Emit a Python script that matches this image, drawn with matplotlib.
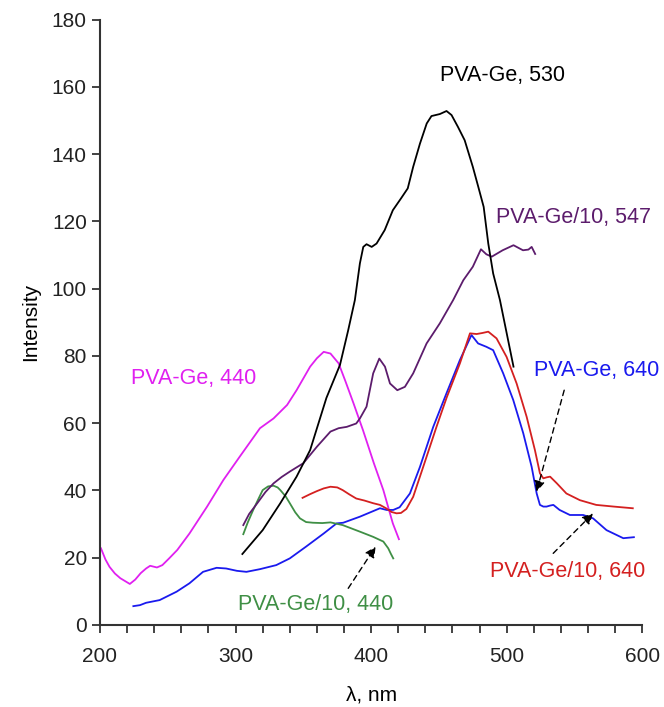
import numpy as np
import matplotlib
matplotlib.use('Agg')
import matplotlib.pyplot as plt
from matplotlib.ticker import MultipleLocator

plt.rcParams['font.family'] = ['Liberation Sans', 'DejaVu Sans']

# PVA-Ge, 530 (black)
x_530 = [305, 320, 333, 345, 355, 367, 377, 383, 388, 391.7, 394.2, 396.6, 400.4, 404, 410,
         416, 422, 427, 431, 436, 441, 444.5, 450.7, 455.6, 459.3, 464, 469, 475, 479, 483,
         486.4, 490, 495, 500, 505]
y_530 = [21.1, 28.2, 36.2, 44.1, 52.0, 67.5, 77.3, 87.5, 96.6, 107.5, 112.4, 113.2, 112.4, 113.4, 117.4,
         123.3, 126.8, 129.8, 136.2, 143.1, 149.1, 151.3, 151.9, 152.8, 151.6, 148.1, 144.1, 136.2, 130.3, 124.3,
         113.4, 104.5, 96.6, 86.7, 76.8]

# PVA-Ge, 440 (magenta)
x_440 = [200.7, 204, 207, 211, 215, 222, 226, 230, 234, 237, 242, 246, 251, 257, 266, 279, 291, 303, 318, 328,
         338, 345, 355, 360, 365, 370, 376, 381, 387, 394, 402, 409, 416, 420.5]
y_440 = [22.8, 19.5, 17.3, 15.3, 13.9, 12.2, 13.5, 15.4, 16.8, 17.6, 17.1, 17.8, 19.8, 22.3, 27.2, 35.2, 43.1, 50.0, 58.5, 61.4,
         65.4, 69.8, 76.8, 79.3, 81.2, 80.7, 77.8, 72.5, 65.9, 57.9, 48.1, 40.1, 30.2, 25.5]

# PVA-Ge/10, 547 (purple)
x_547 = [305.7, 310, 316, 322, 328, 334, 340, 350, 360, 370, 376, 382, 389, 391.7, 396.6, 401.5, 406, 410.2, 413.9,
         419.3, 424.9, 431, 440.9, 450.7, 460.5, 468, 475, 481, 485, 489, 497, 505, 512, 516, 518.4, 521]
y_547 = [29.7, 33.0, 36.2, 39.5, 42.1, 44.0, 45.6, 48.1, 53.0, 57.5, 58.5, 58.9, 59.9, 61.4, 64.9, 74.8, 79.2, 76.8, 71.8,
         69.8, 70.8, 74.8, 83.7, 89.7, 96.6, 102.5, 106.5, 111.7, 110.2, 109.5, 111.4, 112.9, 111.4, 111.6, 112.4, 110.3]

# PVA-Ge/10, 440 (green)
x_g440 = [305.7, 309, 313, 317, 320, 324, 328, 331, 333, 337, 340, 344, 347.5, 352, 357, 364, 370, 379, 392,
          401.5, 409, 412.6, 414.5, 416.3]
y_g440 = [27.0, 30.5, 34.2, 37.6, 40.1, 41.2, 41.4, 40.9, 40.1, 38.2, 36.2, 33.5, 31.7, 30.6, 30.4, 30.3, 30.5, 29.7, 27.7,
          26.2, 24.8, 22.8, 21.2, 19.8]

# PVA-Ge/10, 640 (red)
x_r640 = [349.4, 355, 360, 365, 370, 375, 379, 384, 389, 395, 401.5, 406.5, 411, 415, 418.7, 422, 426, 431, 438.4,
          448.2, 455.6, 465.5, 472.9, 477.8, 482, 486.4, 492.5, 499.9, 507.3, 514.7, 520.8, 524.5, 527, 529.5, 532,
          537, 544, 554, 566, 579, 593]
y_r640 = [37.8, 38.9, 39.8, 40.6, 41.1, 40.9, 40.1, 38.8, 37.6, 37.0, 36.2, 35.7, 34.7, 33.6, 33.2, 33.3, 34.5, 38.1, 47.0,
          58.9, 67.5, 77.8, 86.7, 86.5, 86.8, 87.2, 85.2, 79.7, 71.8, 61.9, 52.0, 45.1, 43.6, 43.9, 44.1,
          42.1, 39.1, 37.1, 35.7, 35.2, 34.7]

# PVA-Ge, 640 (blue)
x_b640 = [224.6, 229.5, 234, 244, 256.5, 266, 276, 286, 293, 301, 308, 318, 330, 340, 352,
          365, 374.5, 379.4, 391.7, 400, 406.5, 411.4, 416.3, 421, 428.6, 436, 445.8, 455.6, 465.5, 474,
          478.9, 485, 490, 497.4, 504.8, 512.2, 518.4, 522.1, 524.5, 527, 529.4, 532, 534.4, 539, 546.6,
          556.4, 563.7, 573.6, 586, 593.8]
y_b640 = [5.6, 5.9, 6.6, 7.4, 9.9, 12.4, 15.8, 17.0, 16.8, 16.1, 15.8, 16.6, 17.8, 19.8, 23.3,
          27.2, 30.2, 30.4, 32.2, 33.6, 34.7, 34.2, 34.2, 35.0, 39.1, 47.0, 58.9, 68.9, 78.8, 86.2,
          83.7, 82.7, 81.7, 74.8, 66.9, 57.0, 47.0, 39.1, 35.7, 35.2, 35.2, 35.5, 35.7, 34.2, 32.7,
          32.7, 31.7, 28.2, 25.8, 26.1]

fig = plt.figure(figsize=(6.64, 7.07), dpi=100)
ax = fig.add_axes([0.1506, 0.116, 0.8167, 0.8564])

lw = 1.3
ax.plot(x_440, y_440, color='#e020f0', lw=lw)
ax.plot(x_b640, y_b640, color='#1a1aee', lw=lw)
ax.plot(x_g440, y_g440, color='#3f8f45', lw=lw)
ax.plot(x_547, y_547, color='#5c1c6c', lw=lw)
ax.plot(x_r640, y_r640, color='#d42020', lw=lw)
ax.plot(x_530, y_530, color='black', lw=lw)

fs = 15.5
ax.text(497, 163.4, 'PVA-Ge, 530', color='black', fontsize=fs, ha='center', va='center')
ax.text(549.6, 121, 'PVA-Ge/10, 547', color='#5c1c6c', fontsize=fs, ha='center', va='center')
ax.text(269, 73.4, 'PVA-Ge, 440', color='#e020f0', fontsize=fs, ha='center', va='center')
ax.text(566.5, 75.8, 'PVA-Ge, 640', color='#1a1aee', fontsize=fs, ha='center', va='center', clip_on=False)
ax.text(545, 15.8, 'PVA-Ge/10, 640', color='#d42020', fontsize=fs, ha='center', va='center')
ax.text(359.3, 6.2, 'PVA-Ge/10, 440', color='#3f8f45', fontsize=fs, ha='center', va='center')

# dashed arrows
arrow = dict(arrowstyle='-|>', linestyle=(0, (4, 3)), color='black', lw=1.0,
             mutation_scale=16, shrinkA=0, shrinkB=0)
ax.annotate('', xy=(403.3, 23.3), xytext=(383.1, 10.9), arrowprops=arrow)
ax.annotate('', xy=(522, 39.6), xytext=(542.4, 69.8), arrowprops=arrow)
ax.annotate('', xy=(563.7, 33.2), xytext=(534.3, 21.3), arrowprops=arrow)

ax.set_xlim(200, 600)
ax.set_ylim(0, 180)
ax.xaxis.set_major_locator(MultipleLocator(100))
ax.xaxis.set_minor_locator(MultipleLocator(20))
ax.yaxis.set_major_locator(MultipleLocator(20))
ax.tick_params(axis='both', which='both', direction='out', length=6, width=1.2,
               labelsize=15, colors='#222222')
ax.tick_params(axis='x', which='major', pad=10)

for s in ['top', 'right']:
    ax.spines[s].set_visible(False)
for s in ['left', 'bottom']:
    ax.spines[s].set_linewidth(1.5)
    ax.spines[s].set_color('#333333')

ax.set_xlabel('λ, nm', fontsize=15, labelpad=14)
ax.set_ylabel('Intensity', fontsize=15, labelpad=8)

fig.savefig('out.png', dpi=100)
